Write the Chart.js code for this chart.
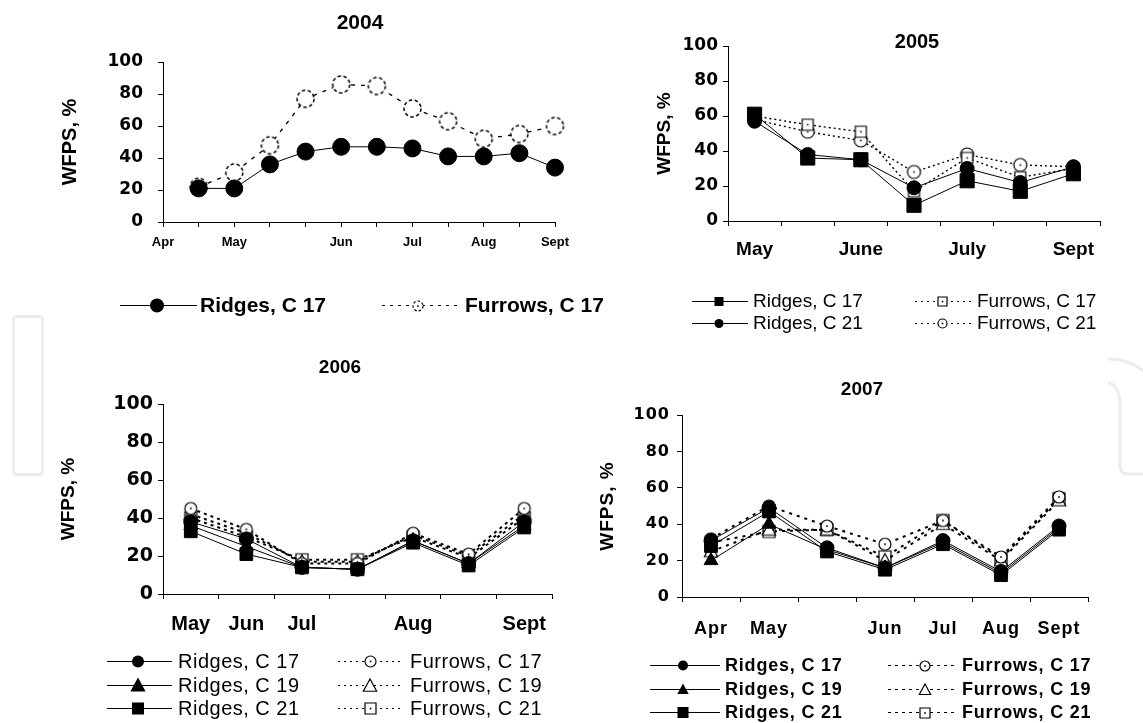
<!DOCTYPE html>
<html>
<head>
<meta charset="utf-8">
<title>WFPS in ridges and furrows, 2004-2007</title>
<script src="https://cdn.jsdelivr.net/npm/chart.js@4.4.1/dist/chart.umd.min.js"></script>
<style>
  html, body { margin: 0; padding: 0; background: #fff; }
  #wrap { position: relative; width: 1143px; height: 723px; overflow: hidden; background: #fff; }
  #wrap canvas, #wrap svg { position: absolute; left: 0; top: 0; }
</style>
</head>
<body>
<div id="wrap">
  <svg width="1143" height="723" aria-hidden="true">
    <g fill="none" stroke="#ececec" stroke-width="3">
      <rect x="13.5" y="316.5" width="29" height="158" rx="3"/>
      <path d="M1108,359 C1128,359 1140,366 1150,378"/>
      <path d="M1108,383 C1115,383 1120,392 1120,405 L1120,466 Q1120,474 1128,474 L1150,474"/>
    </g>
  </svg>
  <canvas id="c2004" width="1143" height="723"></canvas>
  <canvas id="c2005" width="1143" height="723"></canvas>
  <canvas id="c2006" width="1143" height="723"></canvas>
  <canvas id="c2007" width="1143" height="723"></canvas>
</div>
<script>
// ---------------- data: WFPS, % ----------------
// 2004
const months2004 = ['Apr', '', 'May', '', '', 'Jun', '', 'Jul', '', 'Aug', '', 'Sept'];
const ridges2004C17 = [null, 21, 21, 36, 44, 47, 47, 46, 41, 41, 43, 34];
const furrows2004C17 = [null, 22, 31, 48, 77, 86, 85, 71, 63, 52, 55, 60];

// 2005
const months2005 = ['May', '', 'June', '', 'July', '', 'Sept'];
const ridges2005C17 = [61, 36, 35, 9, 23, 17, 27];
const ridges2005C21 = [57, 38, 35, 19, 30, 22, 31];
const furrows2005C17 = [60, 55, 51, 17, 36, 25, 30];
const furrows2005C21 = [58, 51, 46, 28, 38, 32, 31];

// 2006
const months2006 = ['May', 'Jun', 'Jul', '', 'Aug', '', 'Sept'];
const ridges2006C17 = [38, 29, 14, 13, 28, 16, 38];
const ridges2006C19 = [36, 25, 14, 13, 28, 16, 36];
const ridges2006C21 = [33, 21, 14, 13, 27, 15, 35];
const furrows2006C17 = [45, 34, 16, 16, 32, 21, 45];
const furrows2006C19 = [42, 32, 17, 17, 31, 20, 42];
const furrows2006C21 = [40, 30, 18, 18, 30, 19, 40];

// 2007
const months2007 = ['Apr', 'May', '', 'Jun', 'Jul', 'Aug', 'Sept'];
const ridges2007C17 = [31, 49, 27, 16, 31, 14, 39];
const ridges2007C19 = [20, 40, 26, 16, 30, 13, 38];
const ridges2007C21 = [28, 47, 25, 15, 29, 12, 37];
const furrows2007C17 = [32, 50, 39, 29, 42, 22, 55];
const furrows2007C19 = [25, 37, 37, 20, 40, 20, 53];
const furrows2007C21 = [30, 36, 37, 22, 42, 21, 54];

const yTicks = [0, 20, 40, 60, 80, 100];

// ---------------- drawing helpers ----------------
const W = 1143, H = 723;
const SANS = '"Liberation Sans", Arial, sans-serif';
const WIDE = '"DejaVu Sans", Verdana, sans-serif';
Chart.defaults.color = '#000';
Chart.defaults.font.family = SANS;

// open (white) marker glyphs used for the furrow series
function openMarker(shape, r, opts = {}) {
  const s = Math.ceil(r * 2 + 4);
  const c = document.createElement('canvas');
  c.width = s; c.height = s;
  const g = c.getContext('2d');
  const m = s / 2;
  g.fillStyle = '#fff';
  g.strokeStyle = '#000';
  g.lineWidth = opts.lw || 1.2;
  if (opts.dashed) g.setLineDash(opts.dashed);
  g.beginPath();
  if (shape === 'circle') g.arc(m, m, r, 0, Math.PI * 2);
  else if (shape === 'rect') g.rect(m - r, m - r, 2 * r, 2 * r);
  else if (shape === 'triangle') {
    g.moveTo(m, m - r);
    g.lineTo(m + r * 0.95, m + r * 0.75);
    g.lineTo(m - r * 0.95, m + r * 0.75);
    g.closePath();
  }
  g.fill();
  g.stroke();
  if (opts.dot) {
    g.setLineDash([]);
    g.fillStyle = '#000';
    g.fillRect(m - 0.8, m - 0.8, 1.6, 1.6);
  }
  return c;
}

function drawMark(ctx, m, x, y) {
  if (m.img) {
    ctx.drawImage(m.img, Math.round(x - m.img.width / 2), Math.round(y - m.img.height / 2));
    return;
  }
  ctx.beginPath();
  if (m.shape === 'circle') ctx.arc(x, y, m.r, 0, Math.PI * 2);
  else if (m.shape === 'rect') ctx.rect(x - m.r, y - m.r, 2 * m.r, 2 * m.r);
  else if (m.shape === 'triangle') {
    ctx.moveTo(x, y - m.r);
    ctx.lineTo(x + m.r * 0.95, y + m.r * 0.75);
    ctx.lineTo(x - m.r * 0.95, y + m.r * 0.75);
    ctx.closePath();
  }
  ctx.fillStyle = '#000';
  ctx.fill();
}

// panel title and the line-with-marker legend under each panel
const decor = {
  id: 'decor',
  beforeDraw(chart, args, o) {
    chart.ctx.letterSpacing = o.axisSpacing || '0px';
  },
  beforeDatasetsDraw(chart) {
    chart.ctx.letterSpacing = '0px';
  },
  afterDraw(chart, args, o) {
    const ctx = chart.ctx;
    ctx.save();
    ctx.fillStyle = '#000';
    ctx.textBaseline = 'middle';
    ctx.textAlign = 'center';
    ctx.font = o.titleFont;
    ctx.fillText(o.title, o.titleX, o.titleY);

    o.items.forEach(it => {
      const ds = chart.data.datasets[it.ds];
      ctx.save();
      ctx.strokeStyle = '#000';
      ctx.lineWidth = it.lw || 1;
      ctx.setLineDash(it.dash || []);
      ctx.beginPath();
      ctx.moveTo(it.x0, it.y + 0.5);
      ctx.lineTo(it.x1, it.y + 0.5);
      ctx.stroke();
      ctx.setLineDash([]);
      drawMark(ctx, it.mark, it.mx, it.y + 0.5);
      ctx.restore();
      ctx.save();
      ctx.fillStyle = '#000';
      ctx.font = o.legendFont;
      ctx.letterSpacing = o.legendSpacing || '0px';
      ctx.textAlign = 'left';
      ctx.textBaseline = 'middle';
      ctx.fillText(ds.label, it.tx, it.y + 1);
      ctx.restore();
    });
    ctx.restore();
  }
};

function ridge(label, data, style, r) {
  return {
    label, data,
    borderColor: '#000', borderWidth: 1,
    pointStyle: style, pointRadius: r,
    pointBackgroundColor: '#000', pointBorderColor: '#000', pointBorderWidth: 1,
    tension: 0, clip: false
  };
}
function furrow(label, data, img, dash, lw) {
  return {
    label, data,
    borderColor: '#000', borderWidth: lw, borderDash: dash,
    pointStyle: img, pointRadius: 6,
    tension: 0, clip: false
  };
}

function makePanel(id, cfg) {
  const a = cfg.area;
  const X_H = 60;
  return new Chart(document.getElementById(id), {
    type: 'line',
    data: { labels: cfg.labels, datasets: cfg.datasets },
    options: {
      responsive: false,
      animation: false,
      events: [],
      layout: {
        padding: { left: a.left - cfg.yW, top: a.top, right: W - a.right, bottom: H - a.bottom - X_H }
      },
      plugins: { legend: { display: false }, tooltip: { enabled: false }, decor: cfg.decor },
      scales: {
        x: {
          type: 'category',
          offset: cfg.offset,
          grid: { display: true, drawOnChartArea: false, drawTicks: true, tickLength: 5, color: '#000', offset: cfg.offset },
          border: { display: true, color: '#000', width: 1 },
          ticks: { autoSkip: false, maxRotation: 0, minRotation: 0, padding: cfg.xPad, color: '#000', font: cfg.xFont },
          afterFit: s => { s.height = X_H; }
        },
        y: {
          min: 0, max: 100,
          afterBuildTicks: s => { s.ticks = yTicks.map(v => ({ value: v })); },
          grid: { display: true, drawOnChartArea: false, drawTicks: true, tickLength: 5, color: '#000' },
          border: { display: true, color: '#000', width: 1 },
          ticks: { padding: cfg.yPad, color: '#000', font: cfg.yFont },
          title: { display: true, text: 'WFPS, %', color: '#000', font: cfg.yTitleFont, padding: 0 },
          afterFit: s => { s.width = cfg.yW; }
        }
      }
    },
    plugins: [decor]
  });
}

// ---------------- 2004 ----------------
const dashedCircle = openMarker('circle', 8.5, { dashed: [3.5, 2.5], lw: 1.5 });
const dashedCircleSmall = openMarker('circle', 5, { dashed: [2.5, 2], dot: true, lw: 1.2 });
makePanel('c2004', {
  area: { left: 163, top: 62, right: 555, bottom: 222 },
  labels: months2004,
  offset: false,
  yW: 105, yPad: 15, xPad: 8,
  yFont: { family: WIDE, weight: 'bold', size: 17 },
  xFont: { family: SANS, weight: 'bold', size: 13 },
  yTitleFont: { family: SANS, weight: 'bold', size: 20 },
  datasets: [
    ridge('Ridges, C 17', ridges2004C17, 'circle', 8.5),
    furrow('Furrows, C 17', furrows2004C17, dashedCircle, [4, 6], 1.3)
  ],
  decor: {
    title: '2004', titleX: 360, titleY: 23, titleFont: 'bold 21px ' + SANS,
    legendFont: 'bold 21px ' + SANS,
    items: [
      { ds: 0, x0: 120, x1: 197, mx: 157, tx: 200, y: 305, mark: { shape: 'circle', r: 7 } },
      { ds: 1, x0: 382, x1: 458, mx: 418, tx: 465, y: 305, dash: [3, 5], mark: { img: dashedCircleSmall } }
    ]
  }
});

// ---------------- 2005 ----------------
const openSq05 = openMarker('rect', 5.5, { dot: true });
const openCi05 = openMarker('circle', 6.5, { dot: true });
const openSq05s = openMarker('rect', 4.5, { dot: true });
const openCi05s = openMarker('circle', 4.5, { dot: true });
makePanel('c2005', {
  area: { left: 728, top: 46, right: 1100, bottom: 221 },
  labels: months2005,
  offset: true,
  yW: 75, yPad: 5, xPad: 12,
  yFont: { family: WIDE, weight: 'bold', size: 17 },
  xFont: { family: SANS, weight: 'bold', size: 19 },
  yTitleFont: { family: SANS, weight: 'bold', size: 19 },
  datasets: [
    ridge('Ridges, C 17', ridges2005C17, 'rect', 10),
    ridge('Ridges, C 21', ridges2005C21, 'circle', 7),
    furrow('Furrows, C 17', furrows2005C17, openSq05, [2, 3], 1.4),
    furrow('Furrows, C 21', furrows2005C21, openCi05, [2, 3], 1.4)
  ],
  decor: {
    title: '2005', titleX: 917, titleY: 42, titleFont: 'bold 20px ' + SANS,
    legendFont: '19px ' + SANS,
    items: [
      { ds: 0, x0: 692, x1: 748, mx: 719, tx: 753, y: 301, mark: { shape: 'rect', r: 4.5 } },
      { ds: 1, x0: 692, x1: 748, mx: 719, tx: 753, y: 323, mark: { shape: 'circle', r: 4.5 } },
      { ds: 2, x0: 915, x1: 973, mx: 942, tx: 977, y: 301, dash: [2, 4], mark: { img: openSq05s } },
      { ds: 3, x0: 915, x1: 973, mx: 942, tx: 977, y: 323, dash: [2, 4], mark: { img: openCi05s } }
    ]
  }
});

// ---------------- 2006 ----------------
const openCi06 = openMarker('circle', 6, { dot: true });
const openTr06 = openMarker('triangle', 7);
const openSq06 = openMarker('rect', 6, { dot: true });
const openCi06s = openMarker('circle', 5.5, { dot: true });
const openTr06s = openMarker('triangle', 7);
const openSq06s = openMarker('rect', 5.5, { dot: true });
makePanel('c2006', {
  area: { left: 163, top: 404, right: 552, bottom: 594 },
  labels: months2006,
  offset: true,
  yW: 106, yPad: 5, xPad: 13,
  yFont: { family: WIDE, weight: 'bold', size: 19 },
  xFont: { family: SANS, weight: 'bold', size: 20 },
  yTitleFont: { family: SANS, weight: 'bold', size: 19 },
  datasets: [
    ridge('Ridges, C 17', ridges2006C17, 'circle', 7),
    ridge('Ridges, C 19', ridges2006C19, 'triangle', 8),
    ridge('Ridges, C 21', ridges2006C21, 'rect', 9),
    furrow('Furrows, C 17', furrows2006C17, openCi06, [3, 4], 2),
    furrow('Furrows, C 19', furrows2006C19, openTr06, [3, 4], 2),
    furrow('Furrows, C 21', furrows2006C21, openSq06, [3, 4], 2)
  ],
  decor: {
    title: '2006', titleX: 340, titleY: 368, titleFont: 'bold 19px ' + SANS,
    legendFont: '20px ' + SANS, legendSpacing: '0.5px',
    items: [
      { ds: 0, x0: 107, x1: 172, mx: 138, tx: 178, y: 661, mark: { shape: 'circle', r: 6 } },
      { ds: 1, x0: 107, x1: 172, mx: 138, tx: 178, y: 685, mark: { shape: 'triangle', r: 8 } },
      { ds: 2, x0: 107, x1: 172, mx: 138, tx: 178, y: 708, mark: { shape: 'rect', r: 6 } },
      { ds: 3, x0: 338, x1: 403, mx: 370, tx: 410, y: 661, dash: [2, 4], mark: { img: openCi06s } },
      { ds: 4, x0: 338, x1: 403, mx: 370, tx: 410, y: 685, dash: [2, 4], mark: { img: openTr06s } },
      { ds: 5, x0: 338, x1: 403, mx: 370, tx: 410, y: 708, dash: [2, 4], mark: { img: openSq06s } }
    ]
  }
});

// ---------------- 2007 ----------------
const openCi07 = openMarker('circle', 6, { dot: true });
const openTr07 = openMarker('triangle', 7);
const openSq07 = openMarker('rect', 6, { dot: true });
const openCi07s = openMarker('circle', 5, { dot: true });
const openTr07s = openMarker('triangle', 6);
const openSq07s = openMarker('rect', 5, { dot: true });
makePanel('c2007', {
  area: { left: 682, top: 415, right: 1088, bottom: 597 },
  labels: months2007,
  offset: true,
  yW: 86, yPad: 7, xPad: 16,
  yFont: { family: WIDE, weight: 'bold', size: 16 },
  xFont: { family: SANS, weight: 'bold', size: 18 },
  yTitleFont: { family: SANS, weight: 'bold', size: 19 },
  datasets: [
    ridge('Ridges, C 17', ridges2007C17, 'circle', 7),
    ridge('Ridges, C 19', ridges2007C19, 'triangle', 8),
    ridge('Ridges, C 21', ridges2007C21, 'rect', 9),
    furrow('Furrows, C 17', furrows2007C17, openCi07, [3, 5], 2),
    furrow('Furrows, C 19', furrows2007C19, openTr07, [3, 5], 2),
    furrow('Furrows, C 21', furrows2007C21, openSq07, [3, 5], 2)
  ],
  decor: {
    title: '2007', titleX: 862, titleY: 390, titleFont: 'bold 19px ' + SANS,
    axisSpacing: '1px',
    legendFont: 'bold 18px ' + SANS, legendSpacing: '0.8px',
    items: [
      { ds: 0, x0: 650, x1: 720, mx: 683, tx: 725, y: 665, mark: { shape: 'circle', r: 5 } },
      { ds: 1, x0: 650, x1: 720, mx: 683, tx: 725, y: 689, mark: { shape: 'triangle', r: 6 } },
      { ds: 2, x0: 650, x1: 720, mx: 683, tx: 725, y: 712, mark: { shape: 'rect', r: 5.5 } },
      { ds: 3, x0: 888, x1: 958, mx: 925, tx: 962, y: 665, dash: [3, 4], mark: { img: openCi07s } },
      { ds: 4, x0: 888, x1: 958, mx: 925, tx: 962, y: 689, dash: [3, 4], mark: { img: openTr07s } },
      { ds: 5, x0: 888, x1: 958, mx: 925, tx: 962, y: 712, dash: [3, 4], mark: { img: openSq07s } }
    ]
  }
});
</script>
</body>
</html>
